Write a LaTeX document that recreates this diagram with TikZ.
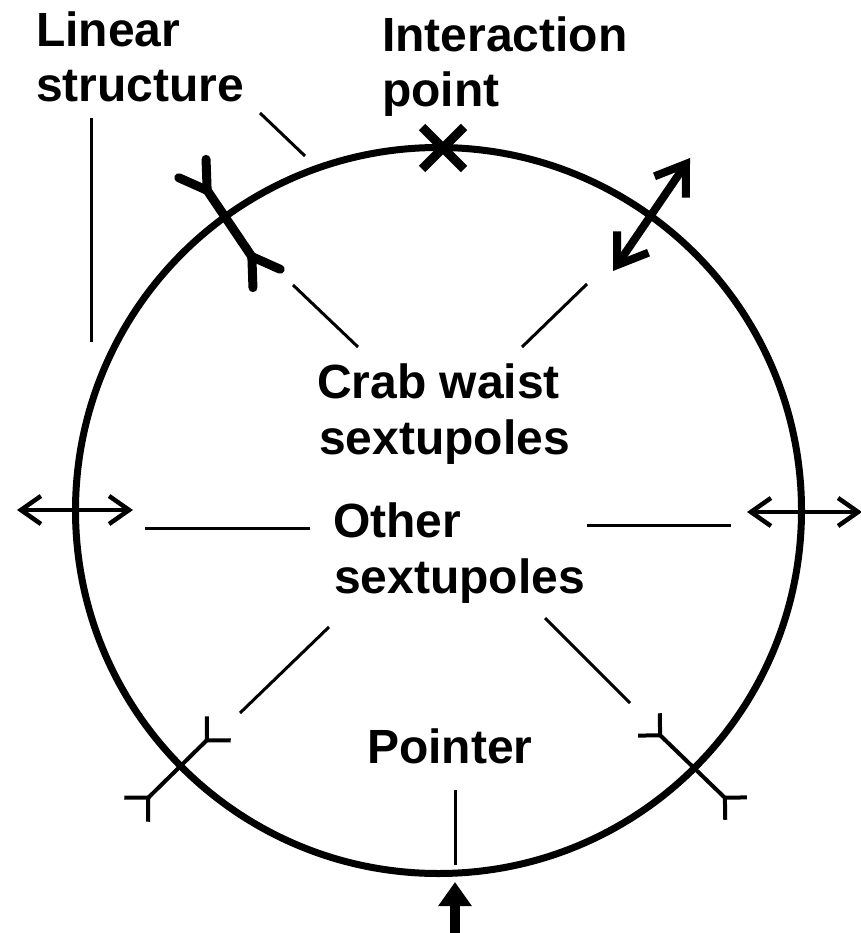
\documentclass[tikz,border=0pt]{standalone}
\usepackage{fontspec}
\setmainfont{Liberation Sans}
\usetikzlibrary{arrows.meta}
\begin{document}
\begin{tikzpicture}[x=1pt,y=-1pt,
  lbl/.style={anchor=base west, inner sep=0pt, font=\fontsize{48}{55}\selectfont\bfseries},
  leader/.style={line width=3pt},
  ring/.style={line width=7pt},
  pics/sext/.style n args={3}{code={
    \draw (-#1,0) -- (#1,0);
    \draw (#1,0) -- ++(#3:#2);
    \draw (#1,0) -- ++(-#3:#2);
    \draw (-#1,0) -- ++(180+#3:#2);
    \draw (-#1,0) -- ++(180-#3:#2);
  }}]
\useasboundingbox (0,0) rectangle (860,933);

% ring
\coordinate (c) at (438.5,510.5);
\draw[ring] (c) circle[radius=363];

% labels
\node[lbl] (linear) at (36,47) {Linear};
\node[lbl] (structure) at (36,102) {structure};
\node[lbl] (ip1) at (382,52) {Interaction};
\node[lbl] (ip2) at (382,107) {point};
\node[lbl] (cw1) at (317,398) {Crab waist};
\node[lbl] (cw2) at (319,454) {sextupoles};
\node[lbl] (os1) at (333,537) {Other};
\node[lbl] (os2) at (334,593) {sextupoles};
\node[lbl] (ptr) at (367,763) {Pointer};

% leader lines
\coordinate (l1a) at (91,118);  \coordinate (l1b) at (91,342);
\coordinate (l2a) at (260,113); \coordinate (l2b) at (305,156);
\coordinate (l3a) at (293,285); \coordinate (l3b) at (358,347);
\coordinate (l4a) at (587,284); \coordinate (l4b) at (522,347);
\coordinate (l5a) at (145,528); \coordinate (l5b) at (310,528);
\coordinate (l6a) at (587,525); \coordinate (l6b) at (731,525);
\coordinate (l7a) at (329,627); \coordinate (l7b) at (240,713);
\coordinate (l8a) at (545,618); \coordinate (l8b) at (630,703);
\coordinate (l9a) at (455,790); \coordinate (l9b) at (455,865);
\foreach \n in {1,...,9} \draw[leader] (l\n a) -- (l\n b);

% interaction point
\coordinate (ip) at (443,148);
\draw[line width=9pt] ([shift={(-21,-21)}]ip) -- ([shift={(21,21)}]ip);
\draw[line width=9pt] ([shift={(-21,21)}]ip) -- ([shift={(21,-21)}]ip);

% crab waist sextupole (upper left)
\pic[line width=9pt, line cap=round, rotate=-56] at (229.5,223.5) {sext={40}{31}{32}};
% other sextupoles (lower)
\pic[line width=4pt, rotate=44.5] at (177.5,769) {sext={41}{24}{45}};
\pic[line width=4pt, rotate=-44] at (692.5,766.5) {sext={45}{22}{45}};

% crab waist double arrow (upper right)
\coordinate (da1) at (613,271); \coordinate (da2) at (690,158);
\draw[line width=8pt, {Straight Barb[length=28pt,width=38pt]}-{Straight Barb[length=28pt,width=38pt]}] (da1) -- (da2);

% side double arrows
\coordinate (la1) at (17,510); \coordinate (la2) at (133,510);
\draw[line width=4.5pt, {Straight Barb[length=20pt,width=28pt]}-{Straight Barb[length=20pt,width=28pt]}] (la1) -- (la2);
\coordinate (ra1) at (747,512); \coordinate (ra2) at (862,512);
\draw[line width=4.5pt, {Straight Barb[length=20pt,width=28pt]}-{Straight Barb[length=20pt,width=28pt]}] (ra1) -- (ra2);

% pointer arrow
\coordinate (pa1) at (455,945); \coordinate (pa2) at (455,882);
\draw[line width=10pt, -{Triangle[length=24pt,width=32pt]}] (pa1) -- (pa2);
\end{tikzpicture}
\end{document}
